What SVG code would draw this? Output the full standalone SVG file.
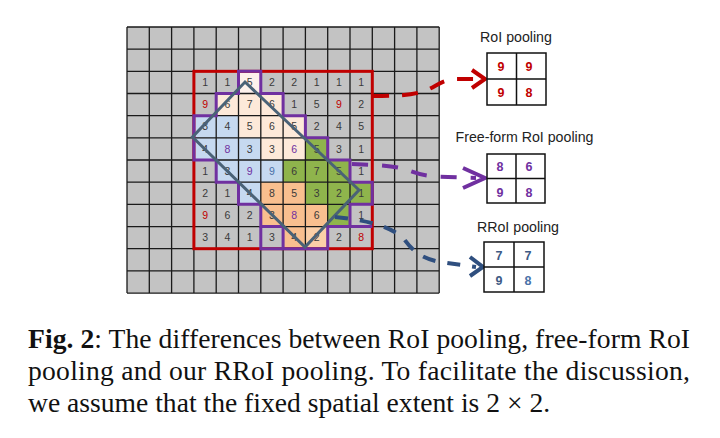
<svg xmlns="http://www.w3.org/2000/svg" width="720" height="438" viewBox="0 0 720 438">
<style>
.n{font-family:"Liberation Sans",Arial,sans-serif;font-size:10.5px;fill:#3a3a3a;text-anchor:middle}
.r{fill:#c00000}
.p{fill:#7030a0}
.b{fill:#4a72a8}
.pk{fill:#fde9d9}
.bl{fill:#c6d9f0}
.gr{fill:#8fb44c}
.or{fill:#f9bf8f}
.lbl{font-family:"Liberation Sans",Arial,sans-serif;font-size:14.2px;fill:#222;text-anchor:middle}
.pn{font-family:"Liberation Sans",Arial,sans-serif;font-size:12.5px;font-weight:bold;text-anchor:middle}
.box{fill:#fff;stroke:#111;stroke-width:1.5}
.cap{font-family:"Liberation Serif","Times New Roman",serif;font-size:27.6px;fill:#111}
</style>
<rect width="720" height="438" fill="#fff"/>
<g id="grid">
<rect x="127" y="27" width="312.2" height="266.04" fill="#c3c3c3"/>
<g id="cells">
<rect x="238.5" y="71.34" width="22.3" height="22.17" fill="#fdf1ec"/>
<rect class="pk" x="216.2" y="93.51" width="22.3" height="22.17"/>
<rect class="pk" x="238.5" y="93.51" width="22.3" height="22.17"/>
<rect class="pk" x="260.8" y="93.51" width="22.3" height="22.17"/>
<rect class="pk" x="238.5" y="115.68" width="22.3" height="22.17"/>
<rect class="pk" x="260.8" y="115.68" width="22.3" height="22.17"/>
<rect class="pk" x="283.1" y="115.68" width="22.3" height="22.17"/>
<rect class="pk" x="260.8" y="137.85" width="22.3" height="22.17"/>
<rect class="pk" x="283.1" y="137.85" width="22.3" height="22.17"/>
<rect class="bl" x="193.9" y="115.68" width="22.3" height="22.17"/>
<rect class="bl" x="216.2" y="115.68" width="22.3" height="22.17"/>
<rect class="bl" x="193.9" y="137.85" width="22.3" height="22.17"/>
<rect class="bl" x="216.2" y="137.85" width="22.3" height="22.17"/>
<rect class="bl" x="238.5" y="137.85" width="22.3" height="22.17"/>
<rect class="bl" x="216.2" y="160.02" width="22.3" height="22.17"/>
<rect class="bl" x="238.5" y="160.02" width="22.3" height="22.17"/>
<rect class="bl" x="260.8" y="160.02" width="22.3" height="22.17"/>
<rect class="bl" x="238.5" y="182.19" width="22.3" height="22.17"/>
<rect class="gr" x="305.4" y="137.85" width="22.3" height="22.17"/>
<rect class="gr" x="283.1" y="160.02" width="22.3" height="22.17"/>
<rect class="gr" x="305.4" y="160.02" width="22.3" height="22.17"/>
<rect class="gr" x="327.7" y="160.02" width="22.3" height="22.17"/>
<rect class="gr" x="305.4" y="182.19" width="22.3" height="22.17"/>
<rect class="gr" x="327.7" y="182.19" width="22.3" height="22.17"/>
<rect class="gr" x="350" y="182.19" width="22.3" height="22.17"/>
<rect class="gr" x="327.7" y="204.36" width="22.3" height="22.17"/>
<rect class="or" x="260.8" y="182.19" width="22.3" height="22.17"/>
<rect class="or" x="283.1" y="182.19" width="22.3" height="22.17"/>
<rect class="or" x="260.8" y="204.36" width="22.3" height="22.17"/>
<rect class="or" x="283.1" y="204.36" width="22.3" height="22.17"/>
<rect class="or" x="305.4" y="204.36" width="22.3" height="22.17"/>
<rect class="or" x="283.1" y="226.53" width="22.3" height="22.17"/>
<rect x="305.4" y="226.53" width="22.3" height="22.17" fill="#fbcfa8"/>
</g>
<g id="numbers">
<text class="n" x="205.05" y="86">1</text><text class="n" x="227.35" y="86">1</text><text class="n" x="249.65" y="86">5</text><text class="n" x="271.95" y="86">2</text><text class="n" x="294.25" y="86">2</text><text class="n" x="316.55" y="86">1</text><text class="n" x="338.85" y="86">1</text><text class="n" x="361.15" y="86">1</text>
<text class="n r" x="205.05" y="108.2">9</text><text class="n" x="227.35" y="108.2">6</text><text class="n" x="249.65" y="108.2">7</text><text class="n" x="271.95" y="108.2">6</text><text class="n" x="294.25" y="108.2">1</text><text class="n" x="316.55" y="108.2">5</text><text class="n r" x="338.85" y="108.2">9</text><text class="n" x="361.15" y="108.2">2</text>
<text class="n" x="205.05" y="130.4">3</text><text class="n" x="227.35" y="130.4">4</text><text class="n" x="249.65" y="130.4">5</text><text class="n" x="271.95" y="130.4">6</text><text class="n" x="294.25" y="130.4">5</text><text class="n" x="316.55" y="130.4">2</text><text class="n" x="338.85" y="130.4">4</text><text class="n" x="361.15" y="130.4">5</text>
<text class="n" x="205.05" y="152.5">4</text><text class="n p" x="227.35" y="152.5">8</text><text class="n" x="249.65" y="152.5">3</text><text class="n" x="271.95" y="152.5">3</text><text class="n p" x="294.25" y="152.5">6</text><text class="n" x="316.55" y="152.5">5</text><text class="n" x="338.85" y="152.5">3</text><text class="n" x="361.15" y="152.5">1</text>
<text class="n" x="205.05" y="174.7">1</text><text class="n" x="227.35" y="174.7">3</text><text class="n p" x="249.65" y="174.7">9</text><text class="n b" x="271.95" y="174.7">9</text><text class="n" x="294.25" y="174.7">6</text><text class="n" x="316.55" y="174.7">7</text><text class="n" x="338.85" y="174.7">5</text><text class="n" x="361.15" y="174.7">1</text>
<text class="n" x="205.05" y="196.9">2</text><text class="n" x="227.35" y="196.9">1</text><text class="n" x="249.65" y="196.9">4</text><text class="n" x="271.95" y="196.9">8</text><text class="n" x="294.25" y="196.9">5</text><text class="n" x="316.55" y="196.9">3</text><text class="n" x="338.85" y="196.9">2</text><text class="n" x="361.15" y="196.9">1</text>
<text class="n r" x="205.05" y="219">9</text><text class="n" x="227.35" y="219">6</text><text class="n" x="249.65" y="219">2</text><text class="n" x="271.95" y="219">3</text><text class="n p" x="294.25" y="219">8</text><text class="n" x="316.55" y="219">6</text><text class="n" x="361.15" y="219">1</text>
<text class="n" x="205.05" y="241.2">3</text><text class="n" x="227.35" y="241.2">4</text><text class="n" x="249.65" y="241.2">1</text><text class="n" x="271.95" y="241.2">3</text><text class="n" x="294.25" y="241.2">4</text><text class="n" x="316.55" y="241.2">2</text><text class="n" x="338.85" y="241.2">2</text><text class="n r" x="361.15" y="241.2">8</text>
</g>
<path id="gridlines" fill="none" stroke="#1a1a1a" stroke-width="1.3" d="M127,27V293.04M149.3,27V293.04M171.6,27V293.04M193.9,27V293.04M216.2,27V293.04M238.5,27V293.04M260.8,27V293.04M283.1,27V293.04M305.4,27V293.04M327.7,27V293.04M350,27V293.04M372.3,27V293.04M394.6,27V293.04M416.9,27V293.04M439.2,27V293.04M127,27H439.2M127,49.17H439.2M127,71.34H439.2M127,93.51H439.2M127,115.68H439.2M127,137.85H439.2M127,160.02H439.2M127,182.19H439.2M127,204.36H439.2M127,226.53H439.2M127,248.7H439.2M127,270.87H439.2M127,293.04H439.2"/>
</g>
<g id="roi-box">
<rect x="193.9" y="71.34" width="178.4" height="177.36" fill="none" stroke="#c00000" stroke-width="3"/>
</g>
<g id="freeform-region" fill="none" stroke="#7030a0" stroke-width="3" stroke-linejoin="miter">
<path d="M238.5,71.34H260.8V93.51H283.1V115.68H305.4V137.85H327.7V160.02H350V182.19H372.3V204.36H350V226.53H327.7V248.7H283.1V226.53H260.8V204.36H238.5V182.19H216.2V160.02H193.9V115.68H216.2V93.51H238.5Z"/>
<path d="M260.8,226.53V248.7H283.1M350,226.53H372.3"/>
</g>
<g id="rotated-roi">
<polygon points="245,82 359,190 305,247 192.5,137" fill="none" stroke="#4a6277" stroke-width="3" stroke-linejoin="miter"/>
</g>
<g id="connectors" fill="none" stroke-width="4" stroke-linecap="butt">
<path d="M373,96 C400,96 414,95 427,90 C437,86 441,80 456,79 L477,79" stroke="#c00000" stroke-dasharray="16 13"/>
<polyline points="472,70 485,79 472,88" stroke="#c00000" stroke-linejoin="miter"/>
<path d="M352,164 C380,165 398,166 410,171 C421,175 430,177 448,177 L476,178" stroke="#7030a0" stroke-dasharray="16 14"/>
<polyline points="463,168 485,178 463,188" stroke="#7030a0" stroke-linejoin="miter"/>
<path d="M335,217 C368,220 392,227 404,239 C412,250 420,258 440,262 L476,267" stroke="#2f4f7f" stroke-dasharray="13 12"/>
<polyline points="470,257 483,267 470,276" stroke="#2f4f7f" stroke-linejoin="miter"/>
</g>
<g id="roi-pooling">
<text class="lbl" x="516" y="42">RoI pooling</text>
<rect class="box" x="487" y="53" width="59" height="52"/>
<path d="M516.5,53V105M487,79H546" stroke="#111" stroke-width="1.5"/>
<text class="pn r" x="501" y="71">9</text><text class="pn r" x="529" y="71">9</text>
<text class="pn r" x="501" y="97">9</text><text class="pn r" x="529" y="97">8</text>
</g>
<g id="freeform-pooling">
<text class="lbl" x="524.5" y="142">Free-form RoI pooling</text>
<rect class="box" x="487" y="154" width="58" height="49"/>
<path d="M516,154V203M487,178.5H545" stroke="#111" stroke-width="1.5"/>
<text class="pn p" x="500" y="171">8</text><text class="pn p" x="529" y="171">6</text>
<text class="pn p" x="500" y="196.5">9</text><text class="pn p" x="529" y="196.5">8</text>
</g>
<g id="rroi-pooling">
<text class="lbl" x="518" y="231.7">RRoI pooling</text>
<rect class="box" x="484" y="242" width="60" height="50"/>
<path d="M514,242V292M484,267H544" stroke="#111" stroke-width="1.5"/>
<text class="pn" fill="#3d5a85" x="499" y="259.5">7</text><text class="pn" fill="#3d5a85" x="528" y="259.5">7</text>
<text class="pn" fill="#3d5a85" x="499" y="284.5">9</text><text class="pn" fill="#4a72a8" x="528" y="284.5">8</text>
</g>
<g id="caption">
<text class="cap" x="28" y="348" textLength="662" lengthAdjust="spacing"><tspan font-weight="bold">Fig. 2</tspan>: The differences between RoI pooling, free-form RoI</text>
<text class="cap" x="28" y="380" textLength="662" lengthAdjust="spacing">pooling and our RRoI pooling.  To facilitate the discussion,</text>
<text class="cap" x="28" y="412">we assume that the fixed spatial extent is 2 × 2.</text>
</g>
</svg>
